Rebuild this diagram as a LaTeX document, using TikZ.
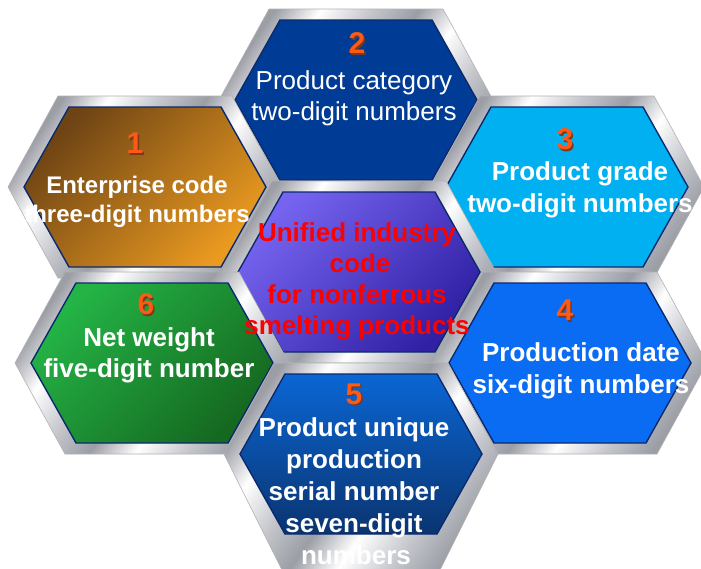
\documentclass[tikz,border=0pt]{standalone}
\usepackage{fontspec}
\setmainfont{Liberation Sans}
\usetikzlibrary{calc}
\definecolor{silA}{HTML}{9C9EA6}
\definecolor{silB}{HTML}{C4C6CC}
\definecolor{navyline}{HTML}{0B2A6E}
\definecolor{numor}{HTML}{FF5A14}
\definecolor{numsh}{HTML}{7A3A20}
\definecolor{orA}{HTML}{6E4414}
\definecolor{orB}{HTML}{EA9A20}
\definecolor{blue2}{HTML}{003C96}
\definecolor{cyan3}{HTML}{00B0F0}
\definecolor{blue4}{HTML}{0A6CF2}
\definecolor{blA5}{HTML}{0A66D4}
\definecolor{blB5}{HTML}{0A3470}
\definecolor{grA}{HTML}{24B446}
\definecolor{grB}{HTML}{156820}
\definecolor{puA}{HTML}{7664F0}
\definecolor{puB}{HTML}{3020A4}
\definecolor{redtxt}{HTML}{FF0000}
\pgfdeclarehorizontalshading{silverframe}{100bp}{color(0bp)=(silA); color(25bp)=(silA); color(33bp)=(white); color(42bp)=(silB); color(50bp)=(silA); color(58bp)=(white); color(67bp)=(silB); color(75bp)=(silA); color(100bp)=(silA)}
\tikzset{
  frame/.style={shading=silverframe, shading angle=-35, draw=black!30, line width=0.6pt},
  face/.style={draw=navyline, line width=1.4pt},
  num/.style={font=\fontsize{30}{30}\selectfont\bfseries, text=numor, inner sep=0pt, anchor=center},
  lbl/.style={font=\fontsize{26}{26}\selectfont\bfseries, text=white, inner sep=0pt, anchor=base},
  lblsmall/.style={font=\fontsize{24}{24}\selectfont\bfseries, text=white, inner sep=0pt, anchor=base},
  lblreg/.style={font=\fontsize{26}{26}\selectfont, text=white, inner sep=0pt, anchor=base},
  lblred/.style={font=\fontsize{26}{26}\selectfont\bfseries, text=redtxt, inner sep=0pt, anchor=base},
}
% #1 name, #2 centre, #3 face style, #4 lower frame depth, #5 lower frame half-width
\newcommand\hexcell[5]{%
  \coordinate (#1) at (#2);
  \path[frame, shift={(#2)}] (-137,0) -- (-87,-91) -- (87,-91) -- (137,0) -- (#5,#4) -- (-#5,#4) -- cycle;
  \path[face, #3, shift={(#2)}] (-121,0) -- (-76,-80) -- (76,-80) -- (121,0) -- (76,80) -- (-76,80) -- cycle;
}
\newcommand\hexnum[3]{%
  \node[num] (#1) at (#2) {\makebox[0pt][l]{\hspace{1.5pt}\raisebox{-1.5pt}{\textcolor{numsh}{#3}}}#3};
}
\begin{document}
\begin{tikzpicture}[x=1pt,y=-1pt]
\useasboundingbox (0,0) rectangle (701,568);
\fill[white] (0,0) rectangle (701,568);

\hexcell{h2}{356,100}{fill=blue2}{91}{87}
\hexcell{h1}{145,187}{top color=orA, bottom color=orB, shading angle=45}{91}{87}
\hexcell{h3}{567,187}{fill=cyan3}{91}{87}
\hexcell{hc}{359,272}{top color=puA, bottom color=puB, shading angle=45}{91}{87}
\hexcell{h6}{152,363}{top color=grA, bottom color=grB, shading angle=45}{91}{87}
\hexcell{h4}{570,363}{fill=blue4}{91}{87}
\hexcell{h5}{361,454}{top color=blA5, bottom color=blB5}{116}{79}

% numbers
\hexnum{n1}{135,144}{1}
\hexnum{n2}{357,44}{2}
\hexnum{n3}{565,140}{3}
\hexnum{n4}{565,311}{4}
\hexnum{n5}{354,395}{5}
\hexnum{n6}{146,305}{6}

% hex 1
\node[lblsmall] (t1a) at (137,193) {Enterprise code};
\node[lblsmall] (t1b) at (137,222) {three-digit numbers};
% hex 2
\node[lblreg] (t2a) at (354,89) {Product category};
\node[lblreg] (t2b) at (354,120) {two-digit numbers};
% hex 3
\node[lbl] (t3a) at (580,180) {Product grade};
\node[lbl] (t3b) at (580,212) {two-digit numbers};
% hex 4
\node[lbl] (t4a) at (581,361) {Production date};
\node[lbl] (t4b) at (581,393) {six-digit numbers};
% hex 6
\node[lbl] (t6a) at (149,346) {Net weight};
\node[lbl] (t6b) at (149,377) {five-digit number};
% hex 5
\node[lbl] (t5a) at (354,436) {Product unique};
\node[lbl] (t5b) at (354,468) {production};
\node[lbl] (t5c) at (354,500) {serial number};
\node[lbl] (t5d) at (354,532) {seven-digit};
\node[lbl] (t5e) at (356,564) {numbers};
% centre
\node[lblred] (tca) at (357,241) {Unified industry};
\node[lblred] (tcb) at (360,272) {code};
\node[lblred] (tcc) at (357,303) {for nonferrous};
\node[lblred] (tcd) at (357,334) {smelting products};
\end{tikzpicture}
\end{document}
